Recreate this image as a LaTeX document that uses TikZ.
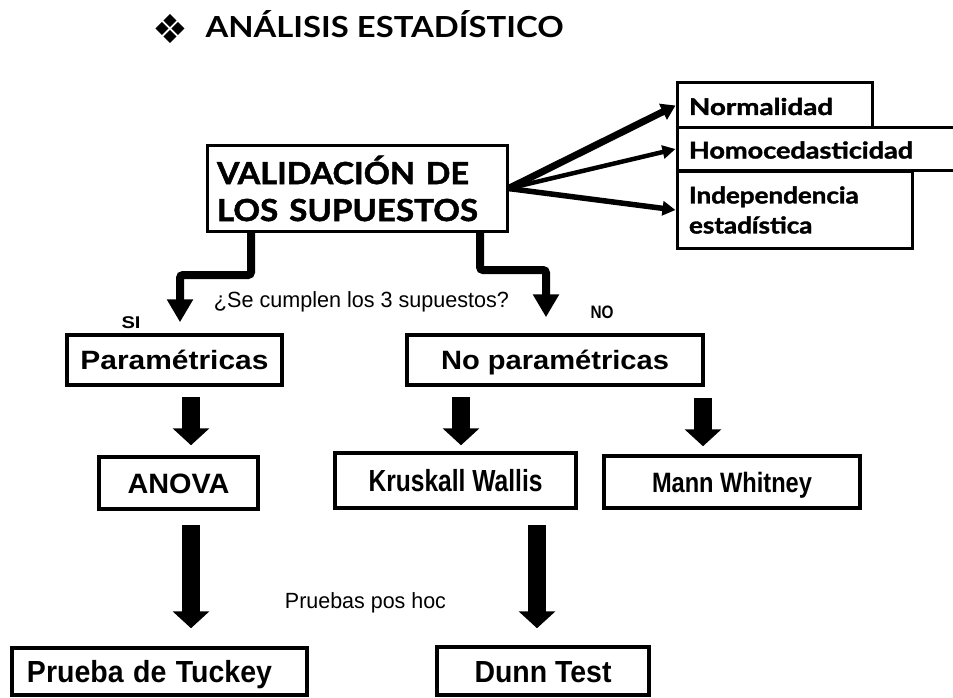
\documentclass[tikz,border=0pt]{standalone}
\usepackage{fontspec}
\usepackage{graphicx}
\setmainfont{Liberation Sans}
\newfontfamily\gill{Lato}[BoldFeatures={FakeBold=1.5}]
\newfontfamily\gilltitle{Lato}
\newfontfamily\dingfont{DejaVu Sans}
\newcommand\fitw[2]{\resizebox{#1}{\height}{#2}}
\usetikzlibrary{arrows.meta}
\begin{document}
\begin{tikzpicture}[x=1pt,y=-1pt,
  boxa/.style={draw, line width=3.5pt, inner sep=0pt, font=\bfseries, text depth=0pt},
  boxg/.style={draw, line width=3pt, inner xsep=12pt, inner ysep=0pt, align=left, font=\gill\bfseries\fontsize{23}{30}\selectfont},
  block/.style={line width=18pt, -{Triangle[length=17pt,width=36pt]}},
  bendarrow/.style={line width=8pt, rounded corners=3pt, -{Triangle[length=23pt,width=25pt]}},
]
\useasboundingbox (0,0) rectangle (953,698);

% title
\node[font=\dingfont\fontsize{40}{40}\selectfont] (bullet) at (170,29) {❖};
\node[anchor=base west, font=\gilltitle\bfseries\fontsize{29}{29}\selectfont] (title) at (202,38) {\fitw{358pt}{ANÁLISIS ESTADÍSTICO}};

% top boxes
\node[boxg, minimum width=300pt, minimum height=85pt, text width=280pt, inner xsep=10pt,
      font=\gill\bfseries\fontsize{30.5}{37}\selectfont] (val) at (357,188.5)
      {\fitw{252pt}{VALIDACIÓN DE}\\\fitw{261pt}{LOS SUPUESTOS}};
\node[boxg, minimum width=195pt, minimum height=45pt, text width=171pt, text height=19pt, text depth=0pt] (norm) at (774.5,105.5) {\fitw{144pt}{Normalidad}};
\node[boxg, minimum width=288pt, minimum height=42pt, text width=264pt, text height=19pt, text depth=0pt] (homo) at (821,149) {\fitw{224pt}{Homocedasticidad}};
\node[boxg, minimum width=235pt, minimum height=77pt, text width=211pt] (indep) at (794.5,210)
      {\scalebox{1.13}[1]{Independencia}\\\scalebox{1.13}[1]{estadística}};

\draw[line width=7pt, -{Triangle[length=14pt,width=17pt]}] (val.east) -- (norm.west);
\draw[line width=4.5pt, -{Triangle[length=13pt,width=13pt]}] (val.east) -- (homo.west);
\draw[line width=5.5pt, -{Triangle[length=13pt,width=14pt]}] (val.east) -- (indep.west);

% second level
\node[boxa, minimum width=215pt, minimum height=50pt, text height=19pt, font=\bfseries\fontsize{26.5}{30}\selectfont] (param) at (174.5,360) {\fitw{188pt}{Paramétricas}};
\node[boxa, minimum width=296pt, minimum height=50pt, text height=19pt, font=\bfseries\fontsize{26.5}{30}\selectfont] (nopar) at (555,360) {\fitw{228pt}{No paramétricas}};

\coordinate (lk) at (251,275);
\coordinate (lk2) at (180,275);
\coordinate (rk) at (480,270);
\coordinate (rk2) at (546,270);
\draw[bendarrow, shorten >=11pt] (val.south -| lk) -- (lk) -- (lk2) -- (param.north -| lk2);
\draw[bendarrow, shorten >=16pt] (val.south -| rk) -- (rk) -- (rk2) -- (nopar.north -| rk2);

\node[anchor=base, font=\fontsize{22}{22}\selectfont] (q) at (361.5,307) {\fitw{295pt}{¿Se cumplen los 3 supuestos?}};
\node[anchor=base, font=\bfseries\fontsize{17}{17}\selectfont] (si) at (131,328) {\fitw{19pt}{SI}};
\node[anchor=base, font=\bfseries\fontsize{18}{18}\selectfont] (no) at (602,318) {\fitw{23pt}{NO}};

% third level
\node[boxa, minimum width=159pt, minimum height=52pt, text height=20pt, font=\bfseries\fontsize{28}{32}\selectfont] (anova) at (178.5,483) {\fitw{102pt}{ANOVA}};
\node[boxa, minimum width=241pt, minimum height=55pt, text height=22pt, font=\bfseries\fontsize{30.5}{34}\selectfont] (krus) at (455.5,480.5) {\fitw{174pt}{Kruskall Wallis}};
\node[boxa, minimum width=256pt, minimum height=52pt, text height=20pt, font=\bfseries\fontsize{28}{32}\selectfont] (mann) at (732,482) {\fitw{160pt}{Mann Whitney}};

\coordinate (a1) at (191,0);
\coordinate (a2) at (461,0);
\coordinate (a3) at (703,0);
\coordinate (a4) at (537,0);
\draw[block, shorten <=10pt, shorten >=10pt] (param.south -| a1) -- (anova.north -| a1);
\draw[block, shorten <=10pt, shorten >=6pt] (nopar.south -| a2) -- (krus.north -| a2);
\draw[block, shorten <=11pt, shorten >=8pt] (nopar.south -| a3) -- (mann.north -| a3);

% bottom level
\node[boxa, minimum width=295pt, minimum height=47pt, text width=265pt, inner xsep=15pt, align=left, text height=22pt, font=\bfseries\fontsize{30.5}{34}\selectfont] (tuck) at (159.5,671.5) {\fitw{245pt}{Prueba de Tuckey}};
\node[boxa, minimum width=212pt, minimum height=48pt, text height=22pt, font=\bfseries\fontsize{30.5}{34}\selectfont] (dunn) at (543,671) {\fitw{137pt}{Dunn Test}};

\draw[block, shorten <=14pt, shorten >=18pt] (anova.south -| a1) -- (tuck.north -| a1);
\draw[block, shorten <=15pt, shorten >=17pt] (krus.south -| a4) -- (dunn.north -| a4);

\node[anchor=base, font=\fontsize{22}{22}\selectfont] (ph) at (365.5,608) {\fitw{161pt}{Pruebas pos hoc}};
\end{tikzpicture}
\end{document}
